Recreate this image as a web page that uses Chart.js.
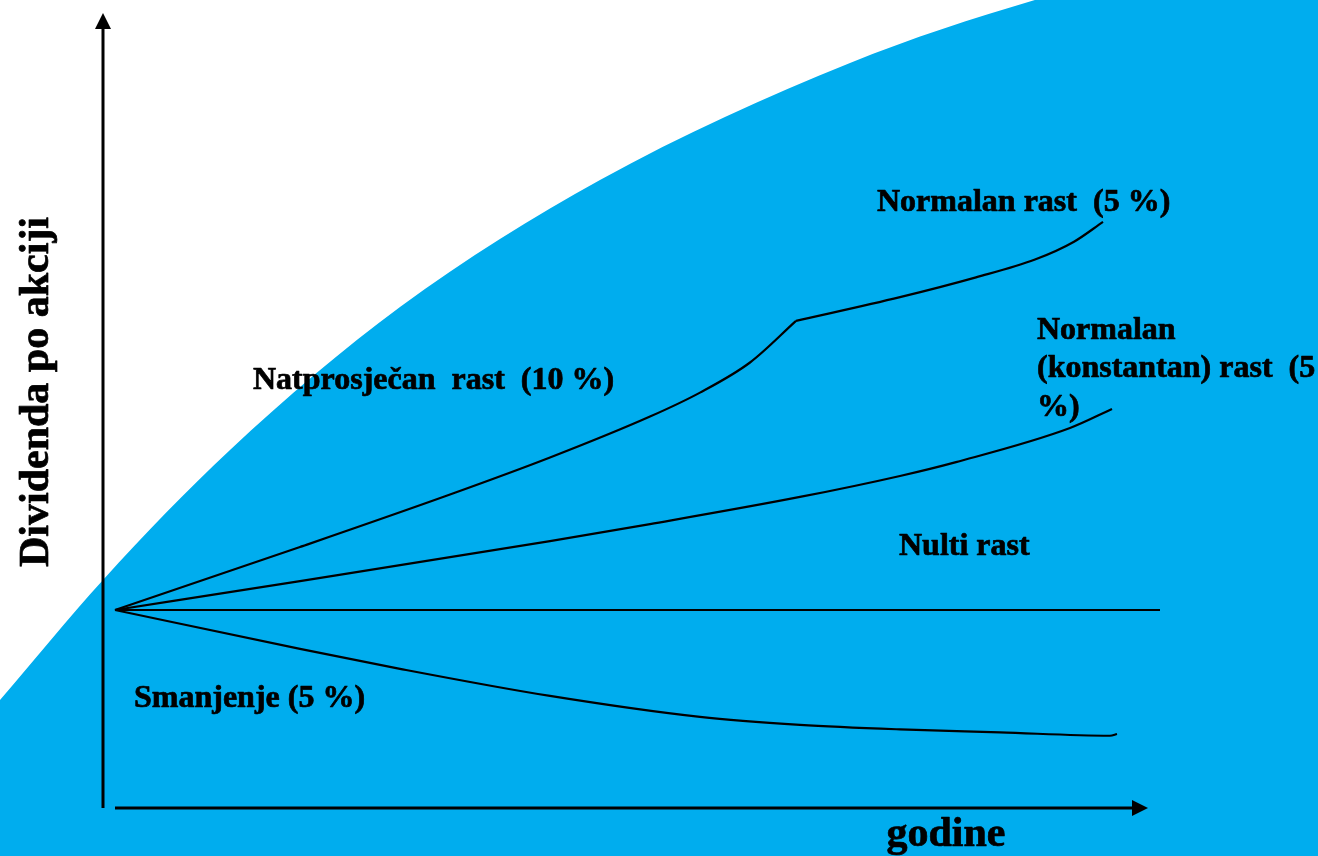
<!DOCTYPE html>
<html>
<head>
<meta charset="utf-8">
<script src="https://cdn.jsdelivr.net/npm/chart.js@4.4.1/dist/chart.umd.min.js"></script>
<style>
  html, body { margin: 0; padding: 0; background: #ffffff; }
  #wrap { width: 1318px; height: 856px; }
</style>
</head>
<body>
<div id="wrap"><canvas id="dividende" width="1318" height="856"></canvas></div>
<script>
// godine (x) and dividenda po akciji (y)
const natYears = [0, 1.85, 3.35, 4.35, 5.35, 5.85, 6.35, 6.81];
const natDiv = [1.0, 1.318, 1.583, 1.77, 1.977, 2.098, 2.25, 2.46];

const normYears = [6.81, 7.85, 8.61, 9.2, 9.59, 9.88];
const normDiv = [2.46, 2.58, 2.68, 2.77, 2.86, 2.96];

const konstYears = [0, 1.85, 4.35, 5.35, 6.85, 7.85, 8.41, 9.55, 9.97];
const konstDiv = [1.0, 1.146, 1.348, 1.434, 1.571, 1.677, 1.747, 1.919, 2.015];

const nultiYears = [0, 10.45];
const nultiDiv = [1.0, 1.0];

const smanjYears = [0, 1.85, 2.85, 4.35, 5.85, 6.85, 7.85, 8.85, 9.95, 10.02];
const smanjDiv = [1.0, 0.804, 0.703, 0.566, 0.46, 0.42, 0.397, 0.382, 0.365, 0.374];

// blue backdrop edge
const bgYears = [-1.15, -0.12, 1.15, 2.85, 4.85, 7.35, 9.2, 12.03];
const bgLevel = [0.545, 1.152, 1.808, 2.53, 3.172, 3.763, 4.081, 4.434];

const xRange = [-1.15, 12.03];
const yRange = [-0.2424, 4.0808];

const BLUE = '#00adee';
const serif = '"Liberation Serif", "Times New Roman", serif';

const pts = (xs, ys) => xs.map((x, i) => ({ x: x, y: ys[i] }));

const seriesLine = (label, xs, ys) => ({
  label: label,
  data: pts(xs, ys),
  borderColor: '#000',
  borderWidth: 2.2,
  pointRadius: 0,
  fill: false,
  cubicInterpolationMode: 'monotone'
});

const notes = [
  { text: 'Natprosječan  rast  (10 %)', x: 1.38, y: 2.16 },
  { text: 'Normalan rast  (5 %)', x: 7.62, y: 3.056 },
  { text: 'Normalan', x: 9.22, y: 2.409 },
  { text: '(konstantan) rast  (5', x: 9.22, y: 2.217 },
  { text: '%)', x: 9.22, y: 2.02 },
  { text: 'Nulti rast', x: 7.84, y: 1.318 },
  { text: 'Smanjenje (5 %)', x: 0.19, y: 0.551 }
];

const boldText = (ctx, text, px, py) => {
  ctx.fillText(text, px, py);
  ctx.strokeText(text, px, py);
};

const axesAndText = {
  id: 'axesAndText',
  afterDatasetsDraw(chart) {
    const { ctx, scales: { x, y } } = chart;
    ctx.save();
    ctx.fillStyle = '#000';
    ctx.strokeStyle = '#000';
    ctx.lineWidth = 3;

    // y axis with arrow
    const ax = x.getPixelForValue(-0.12);
    const y0 = y.getPixelForValue(0);
    const yTip = y.getPixelForValue(4.015);
    ctx.beginPath();
    ctx.moveTo(ax, y0);
    ctx.lineTo(ax, yTip + 14);
    ctx.stroke();
    ctx.beginPath();
    ctx.moveTo(ax, yTip);
    ctx.lineTo(ax - 8, yTip + 16);
    ctx.lineTo(ax + 8, yTip + 16);
    ctx.closePath();
    ctx.fill();

    // x axis with arrow
    const x0 = x.getPixelForValue(0);
    const xTip = x.getPixelForValue(10.33);
    ctx.beginPath();
    ctx.moveTo(x0, y0);
    ctx.lineTo(xTip - 14, y0);
    ctx.stroke();
    ctx.beginPath();
    ctx.moveTo(xTip, y0);
    ctx.lineTo(xTip - 16, y0 - 8);
    ctx.lineTo(xTip - 16, y0 + 8);
    ctx.closePath();
    ctx.fill();

    // labels
    ctx.lineWidth = 0.7;
    ctx.lineJoin = 'round';
    ctx.font = 'bold 32px ' + serif;
    ctx.textAlign = 'left';
    ctx.textBaseline = 'middle';
    notes.forEach(n => {
      boldText(ctx, n.text, x.getPixelForValue(n.x), y.getPixelForValue(n.y));
    });

    ctx.font = 'bold 42px ' + serif;
    ctx.textAlign = 'center';
    boldText(ctx, 'godine', x.getPixelForValue(8.31), y.getPixelForValue(-0.136));

    ctx.translate(x.getPixelForValue(-0.78), y.getPixelForValue(2.101));
    ctx.rotate(-Math.PI / 2);
    boldText(ctx, 'Dividenda po akciji', 0, 0);
    ctx.restore();
  }
};

new Chart(document.getElementById('dividende'), {
  type: 'line',
  data: {
    datasets: [
      seriesLine('Natprosječan rast (10 %)', natYears, natDiv),
      seriesLine('Normalan rast (5 %)', normYears, normDiv),
      seriesLine('Normalan (konstantan) rast (5 %)', konstYears, konstDiv),
      seriesLine('Nulti rast', nultiYears, nultiDiv),
      seriesLine('Smanjenje (5 %)', smanjYears, smanjDiv),
      {
        label: 'pozadina',
        data: pts(bgYears, bgLevel),
        borderWidth: 0,
        borderColor: BLUE,
        backgroundColor: BLUE,
        pointRadius: 0,
        fill: 'start',
        cubicInterpolationMode: 'monotone',
        order: 10
      }
    ]
  },
  options: {
    responsive: false,
    animation: false,
    devicePixelRatio: 1,
    layout: { padding: 0 },
    plugins: {
      legend: { display: false },
      tooltip: { enabled: false }
    },
    scales: {
      x: { type: 'linear', min: xRange[0], max: xRange[1], display: false },
      y: { type: 'linear', min: yRange[0], max: yRange[1], display: false }
    }
  },
  plugins: [axesAndText]
});
</script>
</body>
</html>
